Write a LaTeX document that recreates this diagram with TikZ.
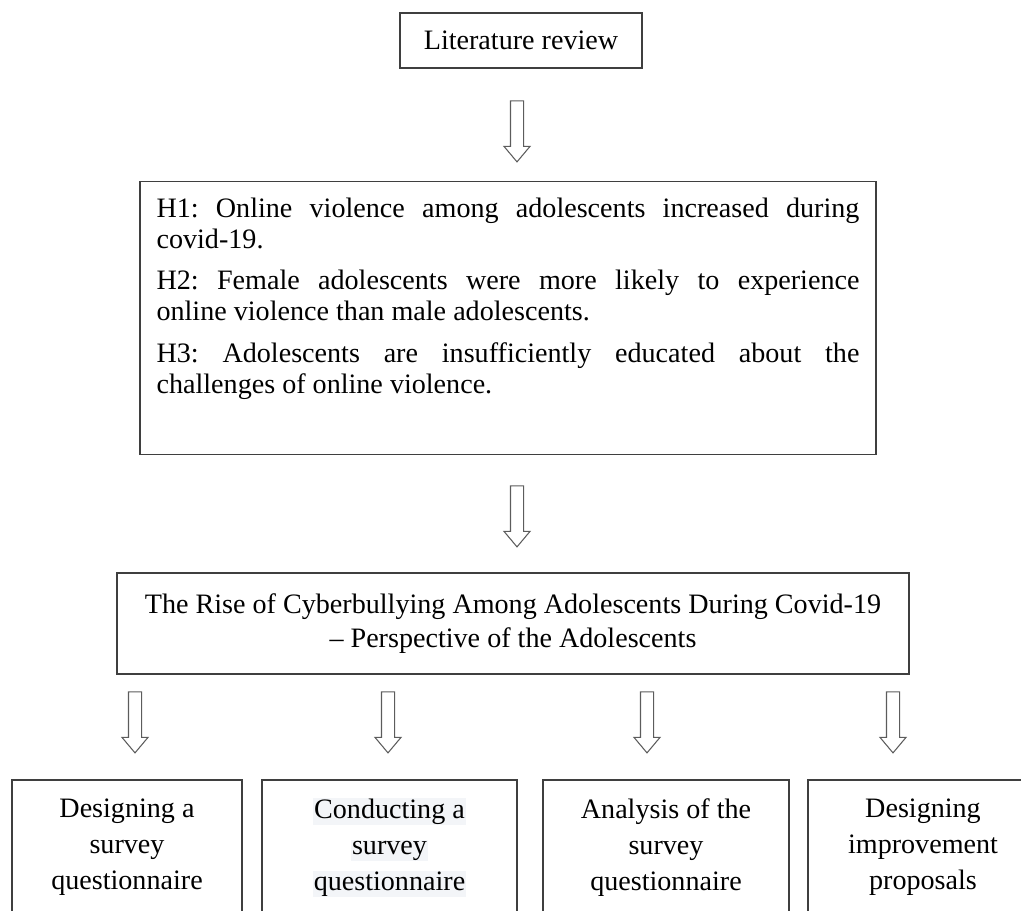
\documentclass[tikz,border=0pt]{standalone}
\usepackage{fontspec}
\setmainfont{Liberation Serif}
\usetikzlibrary{shapes.arrows,positioning}
\definecolor{edge}{HTML}{3F3F3F}
\definecolor{hlgray}{HTML}{F3F5F8}
\newcommand\hlline[1]{{\setlength\fboxsep{0.5pt}\colorbox{hlgray}{#1}}}
\newcommand\hypfont{\fontsize{16}{17.7}\selectfont\parindent=0pt\relax\frenchspacing\hyphenpenalty=10000\relax\exhyphenpenalty=10000\relax}

\begin{document}
\begin{tikzpicture}[x=0.02cm,y=-0.02cm]
\tikzstyle{b}=[draw=edge,line width=0.8pt,align=center,inner sep=0pt,font=\fontsize{16}{20.5}\selectfont]
\tikzstyle{blk}=[single arrow,draw=edge!85,line width=0.6pt,rotate=-90,inner sep=0pt,inner ysep=0.12cm,minimum height=1.22cm,minimum width=0.5cm,single arrow head extend=0.13cm,single arrow tip angle=80]
\useasboundingbox (0,0) rectangle (1021,911);
\node[b,minimum width=4.84cm,minimum height=1.1cm] (lit) at (521,40.5) {Literature review};
\node[blk] (a1) at (517,127.5) {};
\node[b,anchor=north,minimum width=14.72cm,inner xsep=0.33cm,inner ysep=0.33cm,text width=14.06cm,align=justify,font=\hypfont] (hyp) at (508,181)
  {H1: Online violence among adolescents increased during\linebreak covid-19.\par\vspace{0.2cm}
   H2: Female adolescents were more likely to experience\linebreak online violence than male adolescents.\par\vspace{0.2cm}
   H3: Adolescents are insufficiently educated about the\linebreak challenges of online violence.\par\vspace{0.78cm}\nointerlineskip\hbox{}};
\node[blk] (a2) at (517,512.5) {};
\node[b,minimum width=15.84cm,minimum height=2.02cm,font=\fontsize{16}{19.3}\selectfont] (rise) at (513,623.5) {The Rise of Cyberbullying Among Adolescents During Covid-19\\ -- Perspective of the Adolescents};
\node[blk] (a3) at (135,718.5) {};
\node[blk] (a4) at (388,718.5) {};
\node[blk] (a5) at (647,718.5) {};
\node[blk] (a6) at (893,718.5) {};
\node[b,minimum width=4.6cm,minimum height=2.7cm] (d1) at (127,847.5) {Designing a\\ survey\\ questionnaire};
\node[b,minimum width=5.1cm,minimum height=2.7cm] (d2) at (389.5,847.5) {\hlline{Conducting a}\\ \hlline{survey}\\ \hlline{questionnaire}};
\node[b,minimum width=4.92cm,minimum height=2.7cm] (d3) at (666,847.5) {Analysis of the\\ survey\\ questionnaire};
\node[b,minimum width=4.6cm,minimum height=2.7cm] (d4) at (923,847.5) {Designing\\ improvement\\ proposals};
\end{tikzpicture}
\end{document}
